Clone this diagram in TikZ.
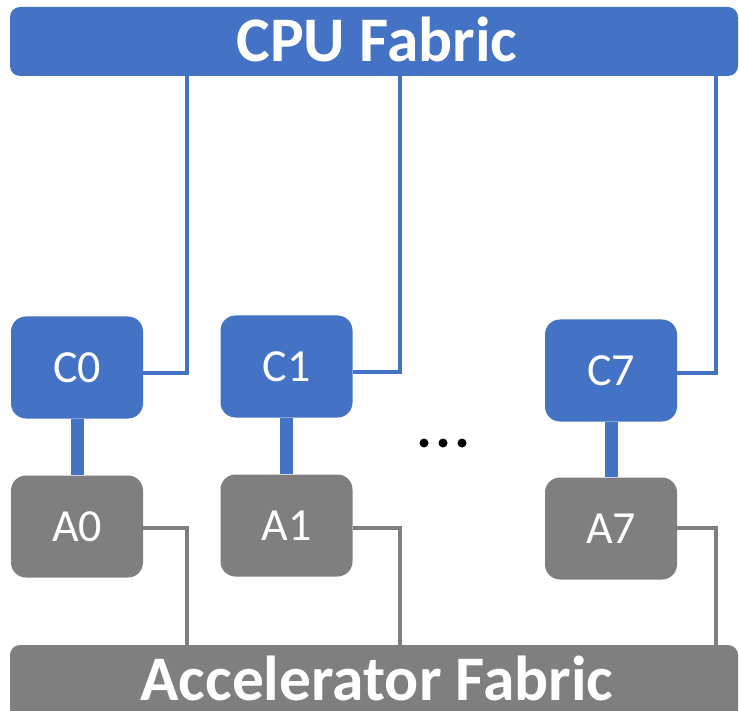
\documentclass[tikz,border=0pt]{standalone}
\usepackage{fontspec}
\setmainfont{Carlito}
\definecolor{cpublue}{HTML}{4472C4}
\definecolor{accgray}{HTML}{7F7F7F}
\tikzset{
  fabric/.style={rounded corners=10pt, minimum width=728pt, inner sep=0pt},
  fabrictext/.style={text=white, anchor=base, inner sep=0pt,
    font=\bfseries\fontsize{63.5}{63.5}\selectfont},
  core/.style={rounded corners=15pt, minimum width=132pt, minimum height=102pt,
    inner sep=0pt, text=white, font=\fontsize{46}{46}\selectfont},
  cpucore/.style={core, fill=cpublue},
  acccore/.style={core, fill=accgray},
  cpulink/.style={draw=cpublue, line width=3.2pt},
  acclink/.style={draw=accgray, line width=3.2pt},
  pairlink/.style={draw=cpublue, line width=13pt},
  dot/.style={circle, fill=black, inner sep=0pt, minimum size=9pt}
}
\begin{document}
\begin{tikzpicture}[x=1pt, y=-1pt]
  \useasboundingbox (0,0) rectangle (739,711);
  \clip (0,0) rectangle (739,711);

  % fabrics
  \node[fabric, fill=cpublue, minimum height=69pt] (cpu) at (374,41.5) {};
  \node[fabrictext] (cputxt) at (377,62) {CPU Fabric};
  \node[fabric, fill=accgray, minimum height=90pt] (acc) at (374,690) {};
  \node[fabrictext] (acctxt) at (377,700) {Accelerator Fabric};

  % x positions of the fabric drops
  \coordinate (x0) at (187,0);
  \coordinate (x1) at (400,0);
  \coordinate (x7) at (716,0);

  % core pairs
  \node[cpucore] (C0) at (77,367.5) {C0};
  \node[acccore] (A0) at (77,526.5) {A0};
  \node[cpucore] (C1) at (286.5,366.5) {C1};
  \node[acccore] (A1) at (286.5,525.5) {A1};
  \node[cpucore] (C7) at (611,370.5) {C7};
  \node[acccore] (A7) at (611,528.5) {A7};

  % CPU-accelerator links
  \draw[pairlink] (C0.south) -- (A0.north);
  \draw[pairlink] (C1.south) -- (A1.north);
  \draw[pairlink] (C7.south) -- (A7.north);

  % links to the CPU fabric
  \draw[cpulink] ([yshift=-5.5pt]C0.east) -| (cpu.south -| x0);
  \draw[cpulink] ([yshift=-5.5pt]C1.east) -| (cpu.south -| x1);
  \draw[cpulink] ([yshift=-2.5pt]C7.east) -| (cpu.south -| x7);

  % links to the accelerator fabric
  \draw[acclink] ([yshift=-1.5pt]A0.east) -| (acc.north -| x0);
  \draw[acclink] ([yshift=-2.5pt]A1.east) -| (acc.north -| x1);
  \draw[acclink] ([yshift=0.5pt]A7.east) -| (acc.north -| x7);

  % ellipsis
  \node[dot] (d1) at (424,443) {};
  \node[dot] (d2) at (443,443) {};
  \node[dot] (d3) at (462,443) {};
\end{tikzpicture}
\end{document}
